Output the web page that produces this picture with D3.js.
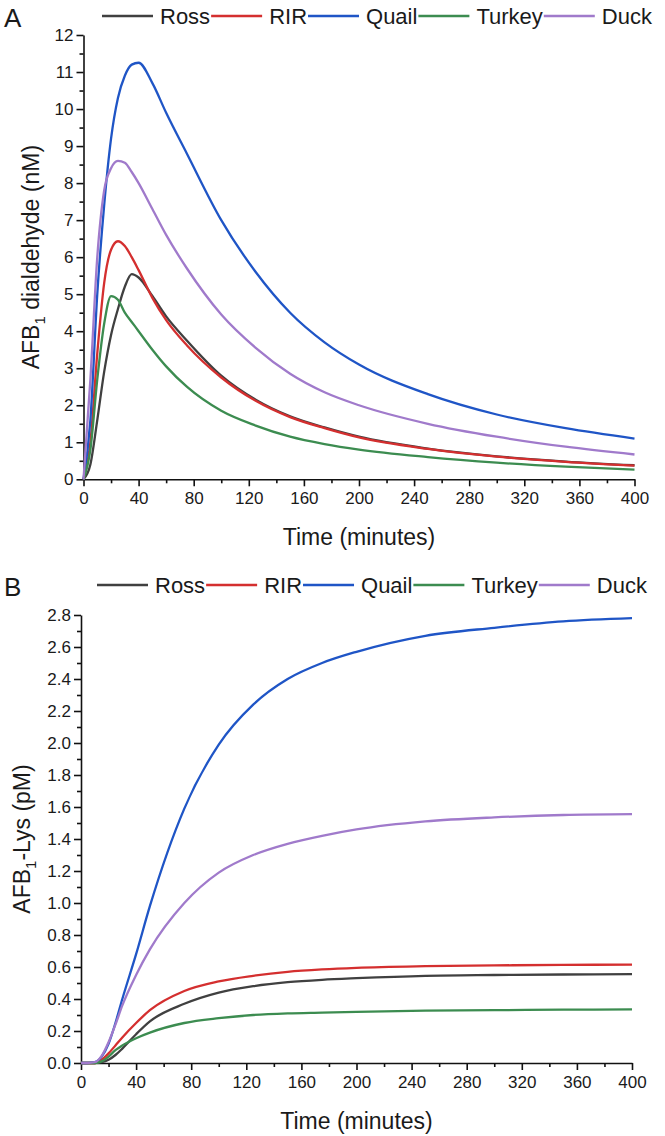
<!DOCTYPE html>
<html><head><meta charset="utf-8">
<script src="https://cdn.jsdelivr.net/npm/d3@7"></script>
<style>
body{margin:0;background:#fff;}
svg text{font-family:"Liberation Sans",Arial,sans-serif;fill:#1a1a1a;}
</style></head>
<body><svg id="c" width="665" height="1136"></svg>
<script>
const seriesNames = ["Ross","RIR","Quail","Turkey","Duck"];
const seriesColors = ["#404040","#d42f2f","#1f55c6","#3c8c50","#a07acb"];

// Panel A: AFB1 dialdehyde (nM)
const timeA = [0,5,10,15,20,25,30,35,40,50,60,75,100,125,150,175,200,250,300,350,400];
const rossA   = [0,0.4,1.6,2.9,3.9,4.6,5.2,5.54,5.45,4.95,4.4,3.75,2.8,2.15,1.7,1.4,1.15,0.83,0.62,0.48,0.38];
const rirA    = [0,1.0,3.4,5.3,6.2,6.43,6.3,6.0,5.65,4.9,4.3,3.62,2.75,2.12,1.68,1.38,1.13,0.82,0.61,0.47,0.37];
const quailA  = [0,1.6,5.0,7.4,9.2,10.3,10.9,11.2,11.25,10.7,9.9,8.8,7.0,5.6,4.5,3.7,3.1,2.3,1.75,1.38,1.1];
const turkeyA = [0,0.8,2.7,4.2,4.95,4.85,4.5,4.25,4.0,3.5,3.05,2.5,1.85,1.45,1.15,0.95,0.8,0.6,0.45,0.34,0.26];
const duckA   = [0,2.7,6.0,7.8,8.4,8.6,8.55,8.3,8.0,7.3,6.6,5.7,4.45,3.55,2.85,2.35,2.0,1.5,1.15,0.88,0.67];

// Panel B: AFB1-Lys (pM)
const timeB = [0,5,10,15,20,25,30,40,50,75,100,125,150,175,200,250,300,350,400];
const rossB   = [0,0,0,0.005,0.02,0.05,0.09,0.18,0.26,0.37,0.44,0.48,0.505,0.52,0.53,0.545,0.55,0.553,0.555];
const rirB    = [0,0,0,0.02,0.06,0.11,0.16,0.25,0.33,0.45,0.51,0.545,0.57,0.585,0.595,0.605,0.61,0.613,0.615];
const quailB  = [0,0,0.005,0.04,0.12,0.25,0.4,0.68,0.98,1.59,1.99,2.24,2.4,2.5,2.57,2.67,2.72,2.76,2.78];
const turkeyB = [0,0,0,0.01,0.04,0.08,0.11,0.155,0.19,0.25,0.28,0.30,0.31,0.315,0.32,0.327,0.33,0.333,0.335];
const duckB   = [0,0,0.005,0.045,0.13,0.24,0.36,0.55,0.71,1.0,1.19,1.30,1.37,1.42,1.46,1.51,1.535,1.55,1.555];

const xTicks = [0,40,80,120,160,200,240,280,320,360,400];
const yTicksA = [0,1,2,3,4,5,6,7,8,9,10,11,12];
const yTicksB = [0,0.2,0.4,0.6,0.8,1.0,1.2,1.4,1.6,1.8,2.0,2.2,2.4,2.6,2.8];

const svg = d3.select("#c");

function panel(cfg){
  const g = svg.append("g");
  const x = d3.scaleLinear().domain([0,400]).range([cfg.x0,cfg.x1]);
  const y = d3.scaleLinear().domain([0,cfg.ymax]).range([cfg.yb,cfg.yt]);

  const xMinor = d3.range(20,400,40);
  g.append("g").attr("transform",`translate(0,${cfg.yb})`)
    .call(d3.axisBottom(x).tickValues(xMinor).tickSize(4).tickFormat(""))
    .call(s=>s.select(".domain").remove());
  g.append("g").attr("transform",`translate(${cfg.x0},0)`)
    .call(d3.axisLeft(y).tickValues(cfg.yMinor).tickSize(4).tickFormat(""))
    .call(s=>s.select(".domain").remove());

  const ax = g.append("g").attr("transform",`translate(0,${cfg.yb})`)
    .call(d3.axisBottom(x).tickValues(xTicks).tickSize(7).tickSizeOuter(0).tickPadding(6));
  ax.selectAll("text").attr("font-size",17);
  const ay = g.append("g").attr("transform",`translate(${cfg.x0},0)`)
    .call(d3.axisLeft(y).tickValues(cfg.yTicks).tickSize(7).tickSizeOuter(0).tickPadding(3).tickFormat(cfg.fmt));
  ay.selectAll("text").attr("font-size",17);
  g.selectAll(".domain,.tick line").attr("stroke","#111").attr("stroke-width",1.6);

  const line = d3.line().x(d=>x(d[0])).y(d=>y(d[1])).curve(d3.curveMonotoneX);
  cfg.series.forEach((vals,i)=>{
    g.append("path").datum(cfg.time.map((t,j)=>[t,vals[j]]))
      .attr("d",line).attr("fill","none").attr("stroke",seriesColors[i])
      .attr("stroke-width",2.3).attr("stroke-linejoin","round");
  });
  g.append("text").attr("x",(cfg.x0+cfg.x1)/2).attr("y",cfg.yb+66)
    .attr("text-anchor","middle").attr("font-size",23).text("Time (minutes)");
  const yt = g.append("text").attr("transform",`translate(${cfg.ytx},${(cfg.yt+cfg.yb)/2}) rotate(-90)`)
    .attr("text-anchor","middle").attr("font-size",23);
  yt.append("tspan").text("AFB");
  yt.append("tspan").attr("font-size",15).attr("dy",6).text("1");
  yt.append("tspan").attr("dy",-6).text(cfg.ylabel);

  g.append("text").attr("x",4).attr("y",cfg.letterY).attr("font-size",26).text(cfg.letter);

  let lx = cfg.legX;
  seriesNames.forEach((n,i)=>{
    g.append("line").attr("x1",lx).attr("x2",lx+51).attr("y1",cfg.legY).attr("y2",cfg.legY)
      .attr("stroke",seriesColors[i]).attr("stroke-width",2.3);
    const t = g.append("text").attr("x",lx+58).attr("y",cfg.legY+8).attr("font-size",22).text(n);
    lx = lx+58+t.node().getComputedTextLength()+1;
  });
}

panel({x0:83.5,x1:634.5,yt:35,yb:479.3,ymax:12,yTicks:yTicksA,yMinor:d3.range(0.5,12,1),
  fmt:d3.format("d"),time:timeA,series:[rossA,rirA,quailA,turkeyA,duckA],
  ylabel:" dialdehyde (nM)",ytx:39,letter:"A",letterY:27,legX:102,legY:16});
panel({x0:81,x1:632,yt:615,yb:1063,ymax:2.8,yTicks:yTicksB,yMinor:d3.range(0.1,2.8,0.2),
  fmt:d3.format(".1f"),time:timeB,series:[rossB,rirB,quailB,turkeyB,duckB],
  ylabel:"-Lys (pM)",ytx:30,letter:"B",letterY:596,legX:97,legY:585});
</script></body></html>
